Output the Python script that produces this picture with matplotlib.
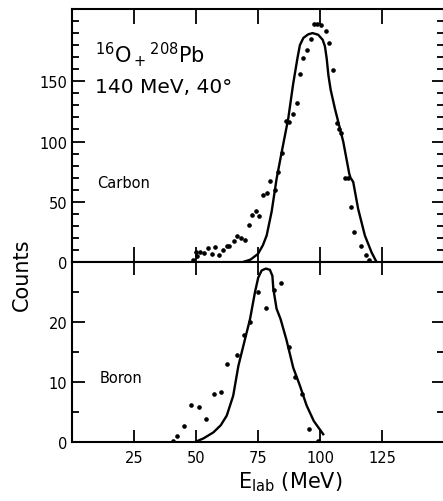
import numpy as np
import matplotlib
matplotlib.use("Agg")
from matplotlib import pyplot as plt

# Carbon spectrum (top panel): measured points and calculated curve
carbon_e = [48.9, 50.0, 50.3, 51.6, 53.2, 55.0, 56.6, 57.7, 59.3, 60.8, 62.4, 63.4,
            65.3, 66.7, 68.1, 69.8, 71.2, 72.4, 74.0, 75.5, 77.0, 78.5, 79.8, 81.8,
            82.9, 84.5, 86.1, 87.5, 89.0, 90.6, 91.9, 93.3, 94.6, 96.2, 97.7, 99.0,
            100.5, 102.3, 103.6, 105.1, 106.7, 107.7, 108.3, 110.1, 111.4, 112.5,
            113.8, 116.5, 118.4, 119.7]
carbon_counts = [1.7, 8.6, 5.3, 8.6, 7.2, 11.4, 6.7, 12.8, 5.8, 10.3, 13.6, 13.6,
                 17.2, 21.9, 20.0, 18.3, 30.8, 39.2, 42.5, 38.0, 55.3, 57.5, 67.0, 59.4,
                 74.4, 90.6, 117.0, 115.8, 122.5, 132.0, 155.8, 169.0, 176.0, 185.0, 197.8, 197.8,
                 196.4, 192.0, 181.7, 159.4, 115.0, 110.8, 106.7, 70.0, 70.0, 46.0,
                 25.3, 13.6, 6.1, 2.0]
carbon_fit_e = [69.0, 72.0, 75.0, 77.0, 78.5, 80.5, 82.5, 84.5, 87.2, 89.2, 90.9, 91.9,
                93.3, 95.3, 97.0, 99.3, 101.1, 102.0, 102.7, 103.4, 104.3, 106.0, 109.4,
                111.8, 112.3, 113.4, 115.4, 118.1, 120.8, 122.8]
carbon_fit = [0.0, 2.0, 6.7, 14.0, 22.0, 41.7, 69.0, 90.6, 119.0, 148.0, 169.0, 180.0,
              186.0, 189.0, 190.0, 188.6, 184.4, 179.0, 169.0, 155.0, 143.0, 127.5, 99.7,
              73.3, 70.0, 66.4, 44.0, 22.0, 8.0, 0.0]

# Boron spectrum (bottom panel)
boron_e = [40.8, 42.5, 45.2, 48.0, 51.3, 54.0, 57.1, 60.1, 62.6, 66.4, 69.2, 71.8,
           74.9, 78.1, 81.3, 84.3, 87.4, 90.0, 92.6, 95.7, 99.2]
boron_counts = [0.2, 1.0, 2.6, 6.1, 5.9, 3.8, 8.0, 8.3, 13.0, 14.5, 17.9, 20.0,
                25.0, 22.4, 25.3, 26.5, 15.8, 10.9, 8.0, 2.1, 0.15]
boron_fit_e = [49.6, 53.0, 57.0, 60.0, 62.4, 65.0, 67.1, 69.8, 71.8, 73.8, 75.1, 76.5,
               78.2, 79.8, 80.8, 81.2, 82.5, 84.1, 86.5, 89.2, 91.9, 94.6, 97.5, 101.3]
boron_fit = [0.0, 0.6, 1.6, 2.8, 4.4, 7.7, 12.7, 17.2, 20.5, 25.0, 27.4, 28.6,
             28.9, 28.7, 27.7, 25.5, 22.2, 20.5, 17.0, 12.4, 9.4, 6.1, 3.5, 1.3]

plt.rcParams['font.family'] = ['DejaVu Sans']

fig = plt.figure(figsize=(4.43, 5.02), dpi=100)
ax_c = fig.add_axes([0.1625, 0.4761, 0.8397, 0.504])
ax_b = fig.add_axes([0.1625, 0.1175, 0.8397, 0.3586])

for ax in (ax_c, ax_b):
    ax.set_xlim(0, 150)
    ax.set_xticks([25, 50, 75, 100, 125])
    for s in ax.spines.values():
        s.set_linewidth(1.5)
    ax.tick_params(which='both', direction='in', left=True, right=True,
                   top=True, bottom=True, width=1.3, labelsize=10.5)
    ax.tick_params(which='major', length=9)
    ax.tick_params(which='minor', length=5)

# top panel
ax_c.plot(carbon_e, carbon_counts, 'o', ms=2.3, color='black')
ax_c.plot(carbon_fit_e, carbon_fit, '-', lw=1.7, color='black')
ax_c.set_ylim(0, 210)
ax_c.set_yticks([0, 50, 100, 150])
ax_c.set_yticks(np.arange(0, 210, 10), minor=True)
ax_c.tick_params(axis='x', which='both', labelbottom=False)
ax_c.tick_params(axis='x', which='major', length=11)
ax_c.text(9.3, 166, r"$^{16}$O$_+$$^{208}$Pb", fontsize=15)
ax_c.text(9.3, 141, "140 MeV, 40°", fontsize=14.5)
ax_c.text(10, 66, "Carbon", fontsize=10.5, va='center')

# bottom panel
ax_b.plot(boron_e, boron_counts, 'o', ms=2.3, color='black')
ax_b.plot(boron_fit_e, boron_fit, '-', lw=1.7, color='black')
ax_b.set_ylim(0, 30)
ax_b.set_yticks([0, 10, 20])
ax_b.set_yticks(np.arange(0, 30, 5), minor=True)
ax_b.tick_params(axis='x', which='major', length=9, pad=6)
ax_b.text(11.3, 10.8, "Boron", fontsize=10.5, va='center')

fig.text(22 / 443, 1 - 275 / 502, "Counts", rotation=90, fontsize=15,
         ha='center', va='center')
fig.text(290 / 443, 1 - 482 / 502, r"E$_{\mathrm{lab}}$ (MeV)", fontsize=15,
         ha='center', va='center')

fig.savefig("out.png", dpi=100)
